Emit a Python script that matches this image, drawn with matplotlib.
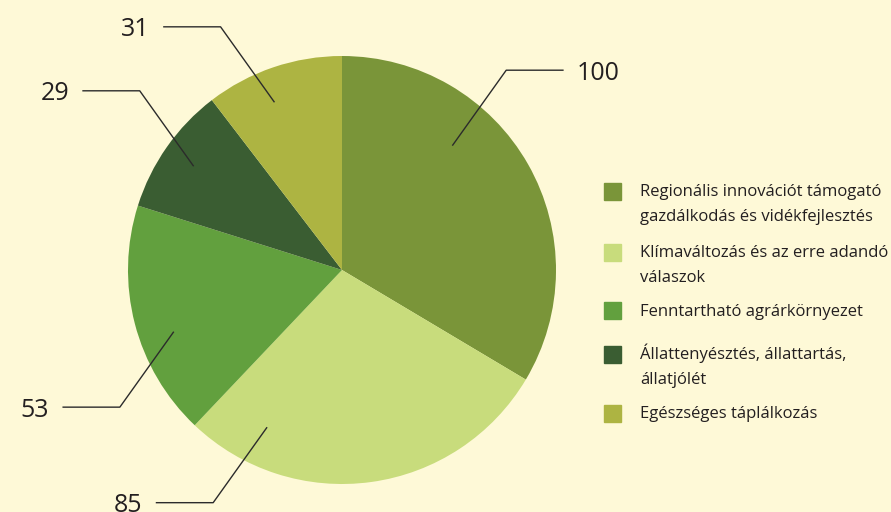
import numpy as np
import matplotlib
import matplotlib.pyplot as plt
from matplotlib.patches import Rectangle

matplotlib.use("Agg")

# adatok
labels = [
    "Regionális innovációt támogató\ngazdálkodás és vidékfejlesztés",
    "Klímaváltozás és az erre adandó\nválaszok",
    "Fenntartható agrárkörnyezet",
    "Állattenyésztés, állattartás,\nállatjólét",
    "Egészséges táplálkozás",
]
values = [100, 85, 53, 29, 31]
colors = ["#7a9539", "#c8dc7c", "#62a03e", "#3a5d32", "#adb442"]
# hol kezdodik a vezeto vonal a szeleten belul (a szelet szogenek hanyada, sugar)
leader_frac = [0.344, 0.825, 0.41, 0.50, 0.413]
leader_rad = [0.78, 0.817, 0.84, 0.849, 0.848]
leader_dir = [(1, 1), (-1, -1), (-1, -1), (-1, 1), (-1, 1)]

BG = "#fef9d7"
W, H = 891, 512
CX, CY, R = 342, 270, 214  # pixelben

fig = plt.figure(figsize=(W / 100, H / 100), dpi=100)
fig.patch.set_facecolor(BG)
ax = fig.add_axes([0, 0, 1, 1])
ax.set_facecolor(BG)

wedges, _ = ax.pie(values, colors=colors, startangle=90, counterclock=False,
                   radius=1, center=(0, 0), frame=True)
ax.set_xlim(-CX / R, (W - CX) / R)
ax.set_ylim(-(H - CY) / R, CY / R)
ax.set_aspect("auto")
ax.axis("off")

font = "Open Sans"
for w, v, f, r, (dx, dy) in zip(wedges, values, leader_frac, leader_rad, leader_dir):
    a = np.deg2rad(w.theta2 - f * (w.theta2 - w.theta1))
    x0, y0 = r * np.cos(a), r * np.sin(a)
    x1, y1 = x0 + dx * 0.25, y0 + dy * 0.35
    x2 = x1 + dx * 0.265
    ax.plot([x0, x1, x2], [y0, y1, y1], color="#2b2b2b", lw=1.0)
    ax.text(x2 + dx * 0.065, y1 - 9.5 / R, str(v), fontsize=18, family=font,
            color="#231f20", va="baseline", ha="left" if dx > 0 else "right")

# jelmagyarazat
sq_y = [191.5, 252, 310.5, 354, 413]
for lab, c, y in zip(labels, colors, sq_y):
    fig.patches.append(Rectangle((604 / W, 1 - (y + 8.5) / H), 17 / W, 17 / H,
                                 transform=fig.transFigure, color=c))
    for i, line in enumerate(lab.split("\n")):
        fig.text(640 / W, 1 - (y + 5 + i * 24.5) / H, line, fontsize=12,
                 family=font, color="#231f20", va="baseline", ha="left")

fig.savefig("out.png", dpi=100, facecolor=BG)
